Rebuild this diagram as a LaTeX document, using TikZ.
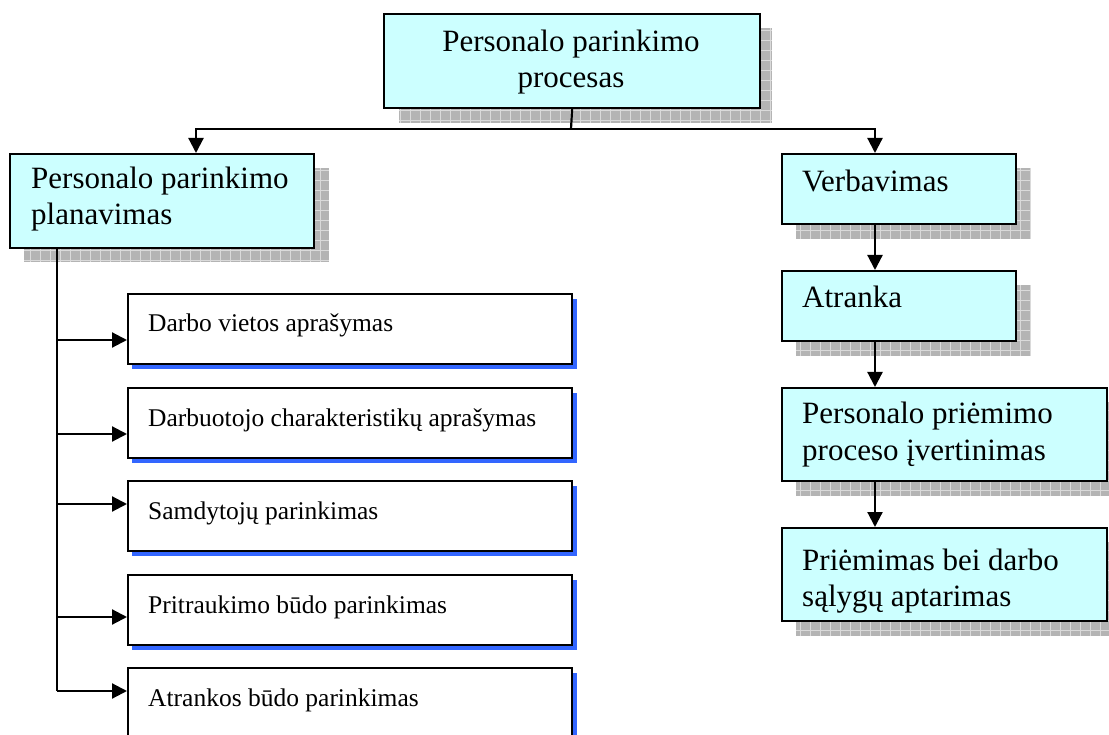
\documentclass[tikz,border=0pt]{standalone}
\usepackage{fontspec}
\setmainfont{Liberation Serif}
\usetikzlibrary{arrows.meta,calc}
\definecolor{cyanfill}{HTML}{CCFFFF}
\definecolor{shgray}{HTML}{B4B4B4}
\definecolor{shline}{HTML}{DADADA}
\definecolor{shblue}{HTML}{3366FF}
\newcommand{\gshadow}[4]{%
  \begin{scope}
    \clip (#1,#2) rectangle (#3,#4);
    \fill[shgray] (#1,#2) rectangle (#3,#4);
    \draw[shline, line width=0.8pt, step=10pt] (#1,#2) grid (#3,#4);
  \end{scope}}
\newcommand{\bshadow}[4]{\fill[shblue] (#1,#2) rectangle (#3,#4);}
\begin{document}
\begin{tikzpicture}[x=1pt,y=-1pt,
  cbox/.style={draw=black, line width=2.2pt, fill=cyanfill, anchor=north west, inner sep=0pt},
  wbox/.style={draw=black, line width=2.2pt, fill=white, anchor=north west, inner sep=0pt, minimum width=444pt, minimum height=70pt},
  bigtxt/.style={font=\fontsize{31}{36}\selectfont, inner sep=0pt},
  smalltxt/.style={font=\fontsize{25.5}{30}\selectfont, inner sep=0pt, anchor=base west},
  conn/.style={line width=2.2pt, draw=black},
  arr/.style={conn, -{Triangle[length=15pt,width=15pt]}}]
\useasboundingbox (0,0) rectangle (1109,735);
\clip (0,0) rectangle (1109,735);

% shadows
\gshadow{399}{28}{772}{123}
\gshadow{24}{168}{329}{262}
\gshadow{796}{168}{1031}{239}
\gshadow{796}{285}{1031}{356}
\gshadow{796}{402}{1121}{496}
\gshadow{796}{542}{1121}{636}
\bshadow{132}{299}{577}{369}
\bshadow{132}{393}{577}{463}
\bshadow{132}{486}{577}{556}
\bshadow{132}{580}{577}{650}
\bshadow{132}{673}{577}{743}

% cyan boxes
\node[cbox, minimum width=376pt, minimum height=94pt] (top) at (383,13) {};
\node[cbox, minimum width=304pt, minimum height=94pt] (plan) at (9,153) {};
\node[cbox, minimum width=234pt, minimum height=70pt] (verb) at (781,153) {};
\node[cbox, minimum width=234pt, minimum height=70pt] (atr) at (781,270) {};
\node[cbox, minimum width=325pt, minimum height=93pt] (ivert) at (781,387) {};
\node[cbox, minimum width=325pt, minimum height=93pt] (prie) at (781,527) {};

% white boxes
\node[wbox] (b1) at (127,293) {};
\node[wbox] (b2) at (127,387) {};
\node[wbox] (b3) at (127,480) {};
\node[wbox] (b4) at (127,574) {};
\node[wbox] (b5) at (127,667) {};

% texts (base = baseline of the last line)
\node[bigtxt, anchor=base, align=center] (ttop) at (571,88) {Personalo parinkimo\\procesas};
\node[bigtxt, anchor=base west, align=left] (tplan) at (31,225) {Personalo parinkimo\\planavimas};
\node[bigtxt, anchor=base west] (tverb) at (802,192) {Verbavimas};
\node[bigtxt, anchor=base west] (tatr) at (802,308) {Atranka};
\node[bigtxt, anchor=base west, align=left] (tivert) at (802,460) {Personalo priėmimo\\proceso įvertinimas};
\node[bigtxt, anchor=base west, align=left] (tprie) at (802,606) {Priėmimas bei darbo\\sąlygų aptarimas};
\node[smalltxt] (t1) at (148,332) {Darbo vietos aprašymas};
\node[smalltxt] (t2) at (148,426) {Darbuotojo charakteristikų aprašymas};
\node[smalltxt] (t3) at (148,519) {Samdytojų parinkimas};
\node[smalltxt] (t4) at (148,613) {Pritraukimo būdo parinkimas};
\node[smalltxt] (t5) at (148,706) {Atrankos būdo parinkimas};

% connectors top
\coordinate (tj) at (571,129);
\draw[conn] (top.south) -- (tj);
\draw[arr] (tj) -| ([xshift=187pt]plan.north west);
\draw[arr] (tj) -| ([xshift=94pt]verb.north west);
\draw[arr] ([xshift=94pt]verb.south west) -- ([xshift=94pt]atr.north west);
\draw[arr] ([xshift=94pt]atr.south west) -- ([xshift=94pt]ivert.north west);
\draw[arr] ([xshift=94pt]ivert.south west) -- ([xshift=94pt]prie.north west);

% left spine
\coordinate (s1) at (57,340);
\coordinate (s2) at (57,434);
\coordinate (s3) at (57,504);
\coordinate (s4) at (57,617);
\coordinate (s5) at (57,691);
\draw[conn] ([xshift=48pt]plan.south west) -- (s5);
\draw[arr] (s1) -- (s1 -| b1.west);
\draw[arr] (s2) -- (s2 -| b2.west);
\draw[arr] (s3) -- (s3 -| b3.west);
\draw[arr] (s4) -- (s4 -| b4.west);
\draw[arr] (s5) -- (s5 -| b5.west);
\end{tikzpicture}
\end{document}
